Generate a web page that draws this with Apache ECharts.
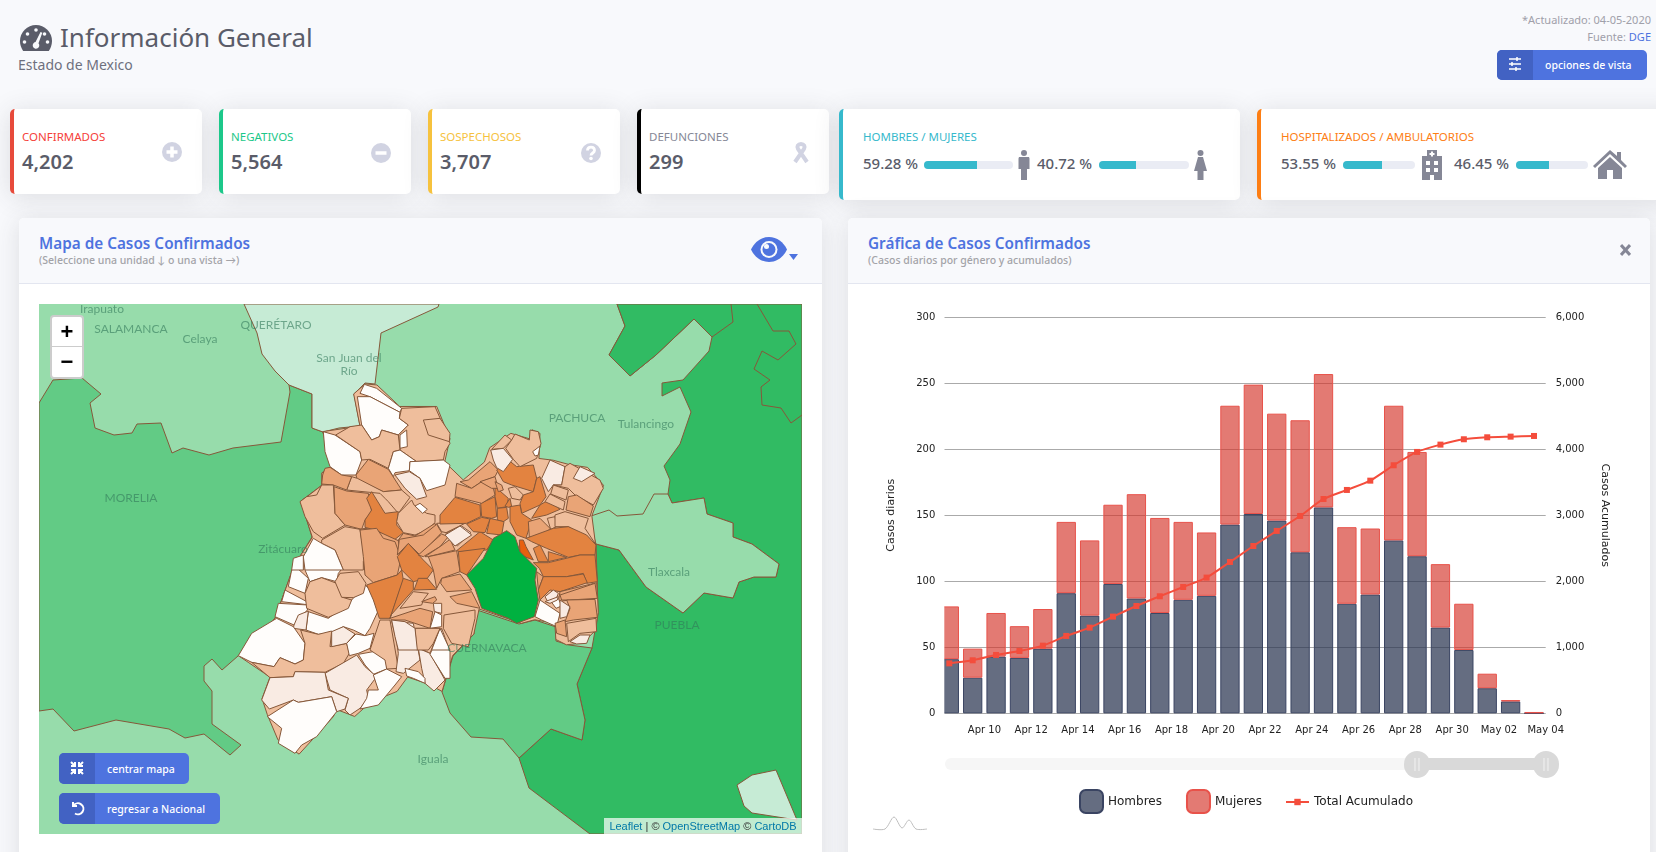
<!DOCTYPE html>
<html lang="es">
<head>
<meta charset="UTF-8">
<title>Información General</title>
<script src="https://cdn.jsdelivr.net/npm/echarts@6/dist/echarts.min.js"></script>
<style>
html,body{margin:0;padding:0;width:1656px;height:852px;overflow:hidden;background:#f8f9fc;font-family:"Noto Sans",Lato,sans-serif;color:#5a5c69}
.abs,.card,.panel,.head,.btn,.t,.bar,svg.ic{position:absolute}
.t{white-space:nowrap;line-height:1}
.card{background:#fff;border-radius:5px;box-shadow:0 3px 26px rgba(58,59,69,.15);box-sizing:border-box;border-left:4px solid #000;top:109px}
.panel{top:218px;height:700px;background:#fff;border-radius:5px;box-shadow:0 3px 26px rgba(58,59,69,.15);overflow:hidden}
.head{left:0;right:0;top:0;height:65px;background:#f8f9fc;border-bottom:1px solid #e3e6f0}
.lab{font-size:11.500px;font-weight:400;top:131px}
.num{font-size:20px;font-weight:600;top:152px;color:#5a5c69}
.pct{font-size:15px;font-weight:500;top:156px;color:#5a5c69}
.bar{height:8px;top:161px;background:#eaecf4;border-radius:4px;overflow:hidden}
.bar i{display:block;height:8px;background:#36b9cc}
.ptitle{font-size:15.300px;font-weight:600;color:#4e73df;top:18px}
.psub{font-size:10.500px;font-weight:500;color:#a3a3a8;top:37px}
.btn{background:#4e73df;border-radius:5px;color:#fff;font-size:10.500px;font-weight:500;overflow:hidden}
.btn b{position:absolute;left:0;top:0;bottom:0;width:36px;background:#4262c3}
.btn svg{position:absolute;left:10px;top:7px}
.btn span{position:absolute;top:50%;transform:translateY(-50%);white-space:nowrap}
#map{position:absolute;left:39px;top:304px;width:763px;height:530px}
#chart{position:absolute;left:848px;top:284px;width:802px;height:568px}
.zoomctl{position:absolute;left:50px;top:315px;width:30px;height:60px;background:#fff;border:2px solid rgba(0,0,0,.2);border-radius:4px;font:700 22px/30px "Liberation Sans",sans-serif;color:#000;text-align:center}
.zoomctl div{height:30px}
.zoomctl div:first-child{border-bottom:1px solid #ccc;height:29px}
.attr{position:absolute;left:604px;top:818px;width:198px;height:16px;background:rgba(255,255,255,.7);font:11px/16px "Liberation Sans",sans-serif;color:#333;text-align:center;white-space:nowrap}
.attr a{color:#0078a8}
</style>
</head>
<body>

<svg class="ic" style="left:20px;top:25px" width="32" height="26" viewBox="0 0 32 26"><path fill="#5a5c69" d="M16 0A16 16 0 0 0 0 16c0 3.6 1.2 7 3.2 10h25.6c2-3 3.2-6.4 3.200-10A16 16 0 0 0 16 0z"/><g fill="#f8f9fc"><circle cx="16" cy="5" r="1.800"/><circle cx="7.500" cy="9" r="1.800"/><circle cx="24.500" cy="9" r="1.800"/><circle cx="4.500" cy="17" r="1.800"/><circle cx="27.500" cy="17" r="1.800"/><path d="M20.500 7l1.800.8-3.800 10.400a3.300 3.300 0 1 1-3-1.100z"/></g></svg>
<div class="t" style="left:60px;top:24px;font-size:26px;color:#5a5c69">Información General</div>
<div class="t" style="left:18px;top:58px;font-size:14px;color:#6e707e">Estado de Mexico</div>

<div class="t" style="right:5px;top:14px;font-size:11px;color:#a0a0aa">*Actualizado: 04-05-2020</div>
<div class="t" style="right:5px;top:31px;font-size:11px;color:#a0a0aa">Fuente: <span style="color:#4e73df">DGE</span></div>
<div class="btn" style="left:1497px;top:50px;width:150px;height:30px"><b></b><svg width="16" height="14" viewBox="0 0 16 14"><path stroke="#fff" stroke-width="1.500" d="M2 2h12M2 7h12M2 12h12M10 0v4M5 5v4M9 10v4"/></svg><span style="left:48px">opciones de vista</span></div>

<div class="card" style="left:10px;width:192px;height:85px;border-left-color:#e74a3b"></div>
<div class="t lab" style="left:22px;color:#f5413a">CONFIRMADOS</div><div class="t num" style="left:22px">4,202</div>
<svg class="ic" style="left:162px;top:142px" width="20" height="20" viewBox="0 0 20 20"><circle cx="10" cy="10" r="10" fill="#d1d3e2"/><path stroke="#fff" stroke-width="3.500" d="M10 4.500v11M4.500 10h11"/></svg>

<div class="card" style="left:219px;width:192px;height:85px;border-left-color:#1cc88a"></div>
<div class="t lab" style="left:231px;color:#1cc88a">NEGATIVOS</div><div class="t num" style="left:231px">5,564</div>
<svg class="ic" style="left:371px;top:143px" width="20" height="20" viewBox="0 0 20 20"><circle cx="10" cy="10" r="10" fill="#d1d3e2"/><path stroke="#fff" stroke-width="3.500" d="M4.500 10h11"/></svg>

<div class="card" style="left:428px;width:192px;height:85px;border-left-color:#f6c23e"></div>
<div class="t lab" style="left:440px;color:#f6c23e">SOSPECHOSOS</div><div class="t num" style="left:440px">3,707</div>
<svg class="ic" style="left:581px;top:143px" width="20" height="20" viewBox="0 0 20 20"><circle cx="10" cy="10" r="10" fill="#d1d3e2"/><path fill="none" stroke="#fff" stroke-width="2.800" d="M6.500 7.500c0-4.500 7-4.500 7 0 0 2.500-3.500 2.500-3.500 5"/><circle cx="10" cy="15.500" r="1.800" fill="#fff"/></svg>

<div class="card" style="left:637px;width:192px;height:85px;border-left-color:#000"></div>
<div class="t lab" style="left:649px;color:#858796">DEFUNCIONES</div><div class="t num" style="left:649px">299</div>
<svg class="ic" style="left:791px;top:142px" width="20" height="22" viewBox="0 0 20 22"><path fill="none" stroke="#d1d3e2" stroke-width="4" d="M4 20L13 7c1.500-2.500 0-5-3-5S5.500 4.500 7 7l9 13"/></svg>

<div class="card" style="left:839px;width:401px;height:91px;border-left-color:#36b9cc"></div>
<div class="t lab" style="left:863px;color:#36b9cc">HOMBRES / MUJERES</div>
<div class="t pct" style="left:863px">59.28 %</div><div class="bar" style="left:924px;width:89px"><i style="width:59.280%"></i></div>
<svg class="ic" style="left:1018px;top:150px" width="12" height="30" viewBox="0 0 12 30"><circle cx="6" cy="3" r="3" fill="#858796"/><path fill="#858796" d="M1 7h10l.5 1.500V19H9v11H3V19H.5V8.500z"/></svg>
<div class="t pct" style="left:1037px">40.72 %</div><div class="bar" style="left:1099px;width:90px"><i style="width:40.720%"></i></div>
<svg class="ic" style="left:1194px;top:150px" width="13" height="30" viewBox="0 0 13 30"><circle cx="6.500" cy="3" r="3" fill="#858796"/><path fill="#858796" d="M4 7h5l4 14H9.500v9h-6v-9H0z"/></svg>

<div class="card" style="left:1257px;width:420px;height:91px;border-left-color:#fd7e14"></div>
<div class="t lab" style="left:1281px;color:#fd7e14">HOSPITALIZADOS / AMBULATORIOS</div>
<div class="t pct" style="left:1281px">53.55 %</div><div class="bar" style="left:1343px;width:72px"><i style="width:53.550%"></i></div>
<svg class="ic" style="left:1419px;top:150px" width="26" height="30" viewBox="0 0 26 30"><path fill="#858796" d="M8 0h10v6h5v24H3V6h5z"/><path fill="#fff" d="M12 1.500h2V3h1.500v2H14v1.500h-2V5h-1.500V3H12zM7 11h4v4H7zM15 11h4v4h-4zM7 18h4v4H7zM15 18h4v4h-4zM11 25h4v5h-4z"/></svg>
<div class="t pct" style="left:1454px">46.45 %</div><div class="bar" style="left:1516px;width:72px"><i style="width:46.450%"></i></div>
<svg class="ic" style="left:1593px;top:150px" width="34" height="29" viewBox="0 0 34 29"><path fill="#858796" d="M17 0l7 6V2h4v8l6 6-2 2L17 4 2 18l-2-2zM5 18L17 7l12 11v11H20v-9h-6v9H5z"/></svg>

<div class="panel" style="left:19px;width:803px"><div class="head"></div>
<div class="t ptitle" style="left:20px">Mapa de Casos Confirmados</div>
<div class="t psub" style="left:20px">(Seleccione una unidad ↓ o una vista →)</div>
<svg class="ic" style="left:732px;top:19px" width="36" height="25" viewBox="0 0 36 25"><path fill="#4e73df" d="M18 0C10 0 3.500 5 0 12.500 3.500 20 10 25 18 25s14.500-5 18-12.500C32.500 5 26 0 18 0z"/><circle cx="18" cy="12.500" r="8.500" fill="#f8f9fc"/><circle cx="18" cy="12.500" r="6.500" fill="#4e73df"/><circle cx="15.500" cy="9.500" r="2.500" fill="#f8f9fc"/></svg>
<svg class="ic" style="left:770px;top:36px" width="9" height="6" viewBox="0 0 9 6"><path fill="#4e73df" d="M0 0h9L4.500 6z"/></svg>
</div>

<div class="panel" style="left:848px;width:802px"><div class="head"></div>
<div class="t ptitle" style="left:20px">Gráfica de Casos Confirmados</div>
<div class="t psub" style="left:20px">(Casos diarios por género y acumulados)</div>
<svg class="ic" style="left:772px;top:26px" width="11" height="12" viewBox="0 0 11 12"><path stroke="#858796" stroke-width="3" d="M1 1l9 10M10 1L1 11"/></svg>
</div>

<div id="map"></div>
<div class="zoomctl"><div>+</div><div>&#8722;</div></div>
<div class="btn" style="left:59px;top:753px;width:130px;height:31px"><b></b><svg width="16" height="16" viewBox="0 0 16 16"><path fill="none" stroke="#fff" stroke-width="2" d="M2 2l4 4M14 2l-4 4M2 14l4-4M14 14l-4-4M6 2v4H2M10 2v4h4M6 14v-4H2M10 14v-4h4"/></svg><span style="left:48px">centrar mapa</span></div>
<div class="btn" style="left:59px;top:793px;width:161px;height:31px"><b></b><svg width="16" height="16" viewBox="0 0 16 16"><path fill="none" stroke="#fff" stroke-width="2" d="M4 2v4h4M4.500 5.500A5.500 5.500 0 1 1 6 13.500"/></svg><span style="left:48px">regresar a Nacional</span></div>
<div class="attr"><a>Leaflet</a> | © <a>OpenStreetMap</a> © <a>CartoDB</a></div>

<div id="chart"></div>

<script>
// casos diarios
var dates = ['2020-04-08','2020-04-09','2020-04-10','2020-04-11','2020-04-12','2020-04-13','2020-04-14','2020-04-15','2020-04-16','2020-04-17','2020-04-18','2020-04-19','2020-04-20','2020-04-21','2020-04-22','2020-04-23','2020-04-24','2020-04-25','2020-04-26','2020-04-27','2020-04-28','2020-04-29','2020-04-30','2020-05-01','2020-05-02','2020-05-03'];
var hombres = [41,27,43,42,49,91,74,98,87,76,86,89,143,151,146,122,156,83,90,131,119,65,48,19,9,0];
var mujeres = [40,22,33,24,30,54,57,60,79,72,59,48,90,98,81,100,101,58,50,102,79,48,35,11,1,1];
var acumulado = [757,803,884,944,1025,1172,1298,1465,1626,1773,1914,2056,2293,2535,2763,2990,3247,3384,3525,3758,3960,4071,4152,4182,4192,4202];
var tickDates = ['2020-04-10','2020-04-12','2020-04-14','2020-04-16','2020-04-18','2020-04-20','2020-04-22','2020-04-24','2020-04-26','2020-04-28','2020-04-30','2020-05-02','2020-05-04'];
var tickLabels = ['Apr 10','Apr 12','Apr 14','Apr 16','Apr 18','Apr 20','Apr 22','Apr 24','Apr 26','Apr 28','Apr 30','May 02','May 04'];

// mapa: tono de cada unidad, trazada a mano sobre la imagen
var tones = ['#fffdfb','#f9ebe3','#efbe9c','#e9a476','#e38340','#e8600f','#c6ebd5','#97dcab','#62cb85','#31bb63','#00b140'];
var frames = {
	full:[0,0,1,1],
	z4:[0,290,0.5294,0.3584],
	a:[270,380,1/3,1/3],
	b:[440,420,1/3,1/3],
	c:[230,565,1/3,1/3],
	d:[340,500,1/3,1/3]
};
var regionShapes = [
	['full',9,'617,304 802,304 802,834 590,834 529,788 519,758 551,729 582,740 585,720 577,684 592,648 598,613 596,544 619,550 646,587 683,613 704,593 733,598 739,582 754,577 776,577 779,564 752,544 733,537 733,523 707,514 704,498 672,503 668,494 670,480 664,466 680,444 691,412 680,387 662,396 662,383 683,380 709,351 712,337 694,319 656,355 630,376 609,355 625,326'],
	['full',9,'617,304 731,304 733,322 712,337 694,319 656,355 630,376 609,355 625,326'],
	['full',9,'757,304 773,331 789,331 796,344 778,360 762,351 754,369 770,380 761,387 762,405 781,408 791,423 802,415 802,304'],
	['full',7,'588,517 609,510 617,516 643,514 654,494 668,494 672,503 704,498 707,514 733,523 733,537 752,544 779,564 776,577 754,577 739,582 733,598 704,593 683,613 646,587 619,550 596,544'],
	['full',6,'737,785 752,775 776,770 797,820 752,813 744,806'],
	['full',8,'39,403 53,380 82,378 101,394 90,403 95,428 114,435 132,433 137,424 161,423 172,453 183,448 209,455 233,448 281,442 290,392 289,385 312,394 312,428 323,432 331,467 322,473 322,485 301,501 312,537 294,566 275,618 238,656 222,670 212,659 204,666 204,681 212,691 212,724 241,745 230,755 204,734 185,738 169,729 116,720 74,731 53,709 39,711'],
	['full',6,'244,304 439,304 438,307 381,333 375,384 365,383 354,394 360,426 339,428 323,432 312,428 312,394 289,385 275,371 262,354 257,333'],
	['full',8,'453,656 474,634 474,609 519,624 535,620 556,627 556,641 569,645 592,648 577,684 585,720 582,740 551,729 519,758 503,739 471,737 450,713 442,692'],
	// contorno del estado
	['z4',2,'690,262 712,265 755,325 825,325 850,415 840,480 875,530 915,480 925,440 965,400 1000,415 1005,390 1020,400 1018,470 1045,475 1075,487 1110,495 1140,545 1118,630 1125,710 1130,900 1125,950 1100,985 1070,990 1050,975 1048,930 1010,920 985,930 905,890 895,960 855,1020 835,1120 810,1100 770,1080 750,1120 700,1150 670,1190 635,1170 630,1190 565,1295 525,1255 505,1185 495,1140 510,1080 470,1040 450,1020 520,915 555,770 590,690 568,590 608,545 608,510 625,495 610,395 680,380 668,290'],
	// sur poniente
	['c',0,'200,8 235,40 225,85 175,65 185,15'],
	['c',0,'230,0 345,0 325,25 320,50 275,38 240,50 225,15'],
	['c',0,'165,75 240,115 240,120 155,110'],
	['c',0,'145,115 235,120 232,135 192,180 135,155'],
	['c',0,'235,140 295,160 365,105 405,60 440,90 448,130 420,190 405,212 370,195 340,185 305,205 265,208 228,195'],
	['c',1,'192,180 205,150 235,138 228,195 190,190'],
	['c',0,'25,272 65,205 140,160 190,185 225,235 220,285 195,297 150,278 132,305 65,292'],
	['c',2,'65,292 132,305 150,278 195,297 220,285 225,235 212,195 265,208 305,198 300,245 350,235 358,265 340,295 285,322 195,320 190,335 120,338'],
	['c',1,'305,200 340,185 375,207 350,235 305,245'],
	['c',0,'378,207 405,212 432,205 420,250 385,265 358,272 350,235'],
	['c',0,'385,268 440,258 470,290 470,312 430,328 405,300'],
	['c',1,'285,325 380,270 405,305 440,335 410,375 415,400 390,430 360,450 345,435 355,400 300,375'],
	['c',1,'120,338 190,335 195,320 285,322 295,375 355,400 345,432 320,440 305,395 205,412 190,405 118,432 95,405'],
	['c',0,'112,455 190,405 205,412 305,395 320,440 260,515 215,540 195,565 145,535 155,490'],
	['c',0,'430,330 470,312 515,335 495,360 445,420 390,432 410,400 415,375 445,375'],
	['c',2,'225,85 240,50 275,38 320,55 338,97 365,105 355,130 295,157 230,130'],
	['c',2,'315,50 330,25 385,20 408,55 400,85 370,98 335,97'],
	['c',2,'450,165 480,165 505,310 470,312 465,285 420,255'],
	['c',1,'485,168 550,175 570,285 520,325 498,320 505,265 500,230'],
	['c',2,'555,190 630,190 600,265 570,250'],
	['c',1,'565,250 600,265 645,345 612,378 585,355 575,310'],
	['c',0,'635,190 660,260 660,340 645,340 600,268'],
	['c',0,'525,310 565,320 585,340 585,355 550,340 530,333'],
	// norponiente
	['a',0,'270,40 283,13 320,25 395,85 390,97 300,50'],
	['a',0,'262,50 300,50 390,97 388,115 415,135 385,165 335,150 328,170 305,180 275,135'],
	['a',2,'395,85 495,80 515,125 540,190 525,215 520,240 440,245 390,210 385,165 415,135 388,115'],
	['a',2,'460,120 510,115 540,160 538,185 475,165'],
	['a',0,'390,165 410,150 412,200 390,205'],
	['a',0,'160,155 195,165 270,215 275,240 258,285 215,285 180,260 165,215'],
	['a',2,'197,165 240,140 275,135 305,180 328,170 335,150 385,165 390,210 370,215 355,265 300,238 275,240 270,215'],
	['a',0,'370,215 390,210 440,245 420,245 418,272 375,278 370,290 355,265'],
	['a',0,'420,245 520,240 540,255 525,315 470,332 450,295 418,272'],
	['a',1,'375,285 418,275 450,295 470,350 440,358 405,325'],
	['a',3,'258,285 295,238 355,268 395,330 340,335 262,300'],
	['a',2,'245,290 262,295 340,335 395,330 420,352 385,400 355,365 345,355 330,340 230,330'],
	['a',3,'165,265 180,262 215,285 245,290 230,330 190,315 155,312 158,285'],
	['a',2,'155,315 190,315 195,400 225,435 158,475 130,455 105,410 90,365 110,350 140,345'],
	['a',3,'192,320 230,333 295,340 305,395 285,420 275,448 225,435 195,400'],
	['a',4,'305,335 345,400 385,395 380,435 400,458 370,482 315,450 285,442 285,420 305,390 290,355'],
	['a',2,'425,360 432,375 470,400 495,405 495,428 470,450 435,465 400,458 380,425 385,400'],
	['a',0,'435,378 450,370 472,388 458,400'],
	['a',2,'155,480 225,440 270,448 275,480 310,510 280,545 280,570 220,570 195,510 155,490'],
	['a',3,'270,448 285,445 315,450 385,482 390,520 380,570 285,570 280,545 310,510'],
	['a',3,'385,480 400,460 435,468 495,430 510,470 445,520 415,490 392,515'],
	['a',0,'130,475 155,490 195,510 220,570 105,570 100,530'],
	['a',0,'70,535 100,525 100,570 65,570'],
	// centro
	['d',3,'60,90 110,85 130,115 165,125 183,175 172,225 100,248 75,225 70,170'],
	['d',4,'205,130 250,180 280,210 262,235 220,245 185,210 172,170'],
	['d',4,'80,255 100,248 172,225 185,210 190,240 150,355 118,355 100,300'],
	['d',4,'190,235 220,245 220,270 153,345 150,355'],
	['d',4,'235,235 262,235 290,268 222,270'],
	['d',3,'178,118 250,105 290,73 305,98 240,165 205,130 172,165'],
	['d',3,'235,165 305,102 325,110 300,140 250,170'],
	['d',3,'255,170 300,140 330,118 345,150 265,170'],
	['d',3,'265,170 350,152 360,215 305,235 290,265 280,210'],
	['d',3,'305,235 360,222 395,270 320,275 302,250'],
	['d',1,'318,100 365,78 393,98 352,138'],
	['d',2,'290,70 385,65 318,98 305,95'],
	['d',3,'330,290 395,275 420,325 350,310'],
	['d',3,'150,355 240,325 278,335 270,385 195,360 155,360'],
	['d',2,'180,325 220,275 265,280 250,300 245,315'],
	['d',3,'245,305 285,290 290,300 278,310'],
	['d',1,'280,310 305,310 305,340 283,335'],
	['d',0,'270,385 285,335 305,345 305,380'],
	['d',2,'312,345 405,330 405,355 385,440 335,430 310,385'],
	['d',0,'275,450 300,385 330,450'],
	['d',2,'225,385 300,385 280,430 265,450 230,450'],
	['d',1,'155,360 195,365 225,385 232,450 175,450 165,410'],
	['d',4,'350,152 420,95 460,120 440,150 360,155'],
	['d',4,'355,155 435,145 380,225 360,215'],
	// oriente
	['b',4,'0,285 45,232 120,255 122,290 80,310 0,312'],
	['b',4,'122,250 165,230 170,290 155,295 125,290'],
	['b',4,'165,230 165,200 205,235 200,260 172,265'],
	['b',4,'172,265 200,262 205,295 190,305 172,300'],
	['b',4,'195,258 210,235 215,260 205,262'],
	['b',3,'60,185 85,180 150,125 175,150 165,170 125,185 95,205'],
	['b',3,'45,230 50,190 95,205 125,185 160,205 165,225 125,250'],
	['b',3,'120,185 165,170 175,205 155,205'],
	['b',3,'165,185 185,195 190,210 175,215'],
	['b',4,'170,150 205,120 230,140 280,135 290,175 280,215 215,195 190,185'],
	['b',2,'155,88 195,45 215,60 190,85'],
	['b',2,'197,85 215,60 225,42 268,60 270,30 295,35 303,70 290,115 240,140 220,118'],
	['b',0,'278,95 300,78 295,105 285,108'],
	['b',1,'152,90 190,85 218,118 190,155 170,143 160,120'],
	['b',2,'205,205 225,200 250,225 240,240 215,235'],
	['b',4,'290,175 300,170 318,230 300,255 245,280 240,250 250,225 280,215'],
	['b',4,'210,260 240,255 245,280 275,300 258,355 230,345 210,305'],
	['b',4,'275,295 300,255 325,240 360,268 320,285'],
	['b',4,'150,295 192,305 185,345 140,340'],
	['b',4,'80,312 125,292 150,297 135,338 100,335'],
	['b',1,'15,345 60,318 95,345 45,378'],
	['b',3,'265,305 300,295 330,325 320,340 268,352'],
	['b',2,'322,295 345,290 350,320 332,328'],
	['b',1,'305,175 330,120 375,140 365,195 340,195 325,215'],
	['b',2,'375,140 390,130 480,180 490,205 460,255 405,225 385,205 340,195 365,195'],
	['b',1,'420,140 465,160 425,185 400,175'],
	['b',2,'340,195 385,210 378,240 332,222'],
	['b',2,'330,222 375,245 370,270 315,245'],
	['b',3,'385,230 410,225 460,258 450,290 378,270'],
	['b',2,'345,285 375,275 445,295 435,325 465,370 385,320 345,320'],
	['b',4,'258,355 340,325 385,320 440,345 468,375 465,405 420,405 385,412 320,385 275,365'],
	['b',5,'238,360 250,360 258,380 280,420 240,405'],
	['b',4,'280,385 300,375 325,425 295,425'],
	['b',4,'325,395 380,412 325,425'],
	['b',4,'280,428 325,428 420,405 465,405 472,485 440,490 430,460 380,470 310,470 298,445'],
	['b',3,'290,455 310,470 295,510'],
	['b',4,'310,470 380,470 430,462 442,488 360,515 330,510 300,540 295,510'],
	['b',1,'315,530 340,510 355,520 345,545 325,548'],
	['b',3,'360,515 470,488 472,530 420,535 355,545'],
	['d',0,'585,350 600,300 660,340 650,380 605,360'],
	['d',0,'630,300 655,295 665,318 648,325'],
	['d',3,'660,285 765,250 772,295 690,300 665,300'],
	['d',1,'615,305 655,290 652,300 630,310'],
	['d',3,'680,300 765,298 772,352 700,360 675,365 690,325'],
	['d',1,'660,300 690,320 680,350 660,355'],
	['d',3,'645,370 675,360 680,410 650,400'],
	['d',2,'680,370 768,355 770,395 720,400 685,425'],
	['d',1,'690,425 720,405 750,405 740,430 710,432'],
	// ciudad de mexico
	['d',10,'500,92 525,110 540,155 590,205 585,240 595,300 583,350 530,370 505,355 425,325 405,265 380,225 430,175 460,115']
];
var placeNames = ['Irapuato','SALAMANCA','Celaya','QUERÉTARO','San Juan del\nRío','PACHUCA','Tulancingo','MORELIA','Zitácuaro','Tlaxcala','PUEBLA','CUERNAVACA','Iguala'];
var placeCoords = [[102,309],[131,329],[200,339],[276,325],[349,365],[577,418],[646,424],[131,498],[283,549],[669,572],[677,625],[487,648],[433,759]];

var features = regionShapes.map(function(s,i){
	var f = frames[s[0]];
	var ring = s[2].split(' ').map(function(p){
		var c = p.split(',');
		return [f[0]+c[0]*f[2], -(f[1]+c[1]*f[3])];
	});
	ring.push(ring[0]);
	return {type:'Feature',properties:{name:'u'+i},geometry:{type:'Polygon',coordinates:[ring]}};
});
echarts.registerMap('edomex',{type:'FeatureCollection',features:features});

var mapChart = echarts.init(document.getElementById('map'));
mapChart.setOption({
	backgroundColor:'#97dcab',
	animation:false,
	visualMap:{
		show:false,
		type:'piecewise',
		seriesIndex:0,
		pieces:tones.map(function(c,i){return {value:i,color:c};})
	},
	geo:{
		map:'edomex',
		roam:false,
		silent:true,
		aspectScale:1,
		left:0,top:0,width:763,height:530,
		boundingCoords:[[39,-304],[802,-834]],
		label:{show:false},
		itemStyle:{borderColor:'#86583a',borderWidth:1,areaColor:'#97dcab'}
	},
	series:[
		{type:'map',geoIndex:0,data:regionShapes.map(function(s,i){return {name:'u'+i,value:s[1]};})},
		{
			type:'scatter',coordinateSystem:'geo',symbolSize:0,silent:true,
			data:placeNames.map(function(n,i){return {name:n,value:[placeCoords[i][0],-placeCoords[i][1]]};}),
			label:{show:true,position:'inside',formatter:'{b}',color:'rgba(50,120,90,.75)',fontFamily:'Lato',fontSize:12,lineHeight:13}
		}
	]
});

var myChart = echarts.init(document.getElementById('chart'));
// dias desde el 1 de abril; las marcas van al centro de su dia y las etiquetas al inicio del dia
var dayOf = function(d){return (Date.UTC(+d.slice(0,4),+d.slice(5,7)-1,+d.slice(8,10))-Date.UTC(2020,3,1))/86400000;};
var timeOf = function(day){return Date.UTC(2020,3,1)+day*86400000;};
var pairs = function(arr){return arr.map(function(v,i){return [timeOf(dayOf(dates[i])+0.5),v];});};
var firstDay = dayOf('2020-04-08')+0.286;
var lastDay = dayOf('2020-05-04');
var barW = 19.3, gridW = 601.4;
// echarts ensancha el eje de tiempo por el ancho de barra, aqui se descuenta
var trim = (lastDay-firstDay)*barW/gridW/2;
var labelFont = 'DejaVu Sans';
myChart.setOption({
	animation:false,
	textStyle:{fontFamily:labelFont},
	grid:{left:96.3,right:104.3,top:33.3,height:396},
	legend:[
		{
			data:['Hombres','Mujeres'],left:226,top:500,itemWidth:23,itemHeight:23,itemGap:24,icon:'roundRect',
			textStyle:{fontSize:12,color:'#222',fontFamily:labelFont}
		},
		{
			data:['Total Acumulado'],left:432,top:507,itemWidth:23,itemHeight:8,
			textStyle:{fontSize:12,color:'#222',fontFamily:labelFont}
		}
	],
	xAxis:[
		{
			// eje de las barras, sin etiquetas propias
			type:'time',position:'bottom',
			min:timeOf(firstDay+trim),max:timeOf(lastDay-trim),
			axisLine:{show:false},axisTick:{show:false},splitLine:{show:false},axisLabel:{show:false}
		},
		{
			// mismo rango en dias, solo para las etiquetas
			type:'value',position:'bottom',
			min:firstDay,max:lastDay,
			axisLine:{show:false},axisTick:{show:false},splitLine:{show:false},
			axisLabel:{
				customValues:tickDates.map(dayOf),
				hideOverlap:false,
				margin:12,
				fontSize:10,
				color:'#222',
				formatter:function(v){return tickLabels[tickDates.map(dayOf).indexOf(v)];}
			}
		}
	],
	yAxis:[
		{
			type:'value',min:0,max:300,interval:50,
			name:'Casos diarios',nameLocation:'middle',nameGap:48,nameTextStyle:{fontSize:11,color:'#222'},
			axisLine:{show:false},axisTick:{show:false},
			axisLabel:{margin:9,fontSize:10,color:'#222'},
			splitLine:{lineStyle:{color:'#aaa',width:1}}
		},
		{
			type:'value',min:0,max:6000,interval:1000,
			name:'Casos Acumulados',nameLocation:'middle',nameGap:54,nameRotate:-90,nameTextStyle:{fontSize:11,color:'#222'},
			axisLine:{show:false},axisTick:{show:false},
			axisLabel:{margin:10,fontSize:10,color:'#222',formatter:function(v){return v.toLocaleString('en-US');}},
			splitLine:{show:false}
		}
	],
	series:[
		{
			name:'Hombres',type:'bar',stack:'casos',barWidth:barW,
			data:pairs(hombres),
			itemStyle:{color:'rgba(42,52,80,.72)',borderColor:'#3a4462',borderWidth:1}
		},
		{
			name:'Mujeres',type:'bar',stack:'casos',barWidth:barW,
			data:pairs(mujeres),
			itemStyle:{color:'rgba(212,50,40,.65)',borderColor:'#e8524a',borderWidth:1}
		},
		{
			name:'Total Acumulado',type:'line',yAxisIndex:1,smooth:0.2,symbol:'rect',symbolSize:6,
			data:pairs(acumulado),
			lineStyle:{color:'#f44d3c',width:2},
			itemStyle:{color:'#f44d3c'},
			z:20
		}
	],
	graphic:[
		// la primera barra queda cortada por el borde izquierdo del eje
		{type:'rect',z:10,shape:{x:89,y:33,width:7.3,height:398},style:{fill:'#fff'}},
		{type:'rect',shape:{x:97,y:474,width:614,height:12,r:6},style:{fill:'#f6f6f6'}},
		{type:'rect',shape:{x:569,y:474,width:129,height:12},style:{fill:'#d9d9d9'}},
		{type:'rect',shape:{x:556,y:467,width:26,height:27,r:13},style:{fill:'#d9d9d9'}},
		{type:'rect',shape:{x:685,y:467,width:26,height:27,r:13},style:{fill:'#d9d9d9'}},
		{type:'polyline',shape:{points:[[567,474],[567,487]]},style:{stroke:'#f2f2f2',lineWidth:1}},
		{type:'polyline',shape:{points:[[571,474],[571,487]]},style:{stroke:'#f2f2f2',lineWidth:1}},
		{type:'polyline',shape:{points:[[696,474],[696,487]]},style:{stroke:'#f2f2f2',lineWidth:1}},
		{type:'polyline',shape:{points:[[700,474],[700,487]]},style:{stroke:'#f2f2f2',lineWidth:1}},
		{type:'polyline',shape:{smooth:0.3,points:[[25,545],[37,545],[46,533],[54,544],[61,536],[68,545],[79,545]]},style:{stroke:'#bdbdbd',fill:null,lineWidth:1}}
	]
});
</script>
</body>
</html>
